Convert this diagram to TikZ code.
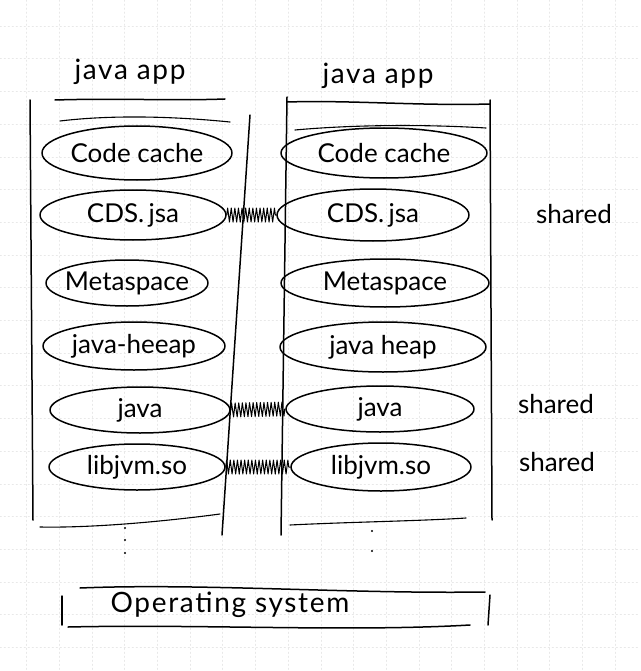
\documentclass[tikz,border=0pt]{standalone}
\usepackage{fontspec}
\setmainfont{Lato}
\usetikzlibrary{shapes.geometric,decorations.pathmorphing}
\begin{document}
\begin{tikzpicture}[x=1pt,y=-1pt, line cap=round, line join=round,
  pen/.style={line width=1.5pt, black},
  thin pen/.style={line width=1.1pt, black},
  ell/.style={ellipse, draw, line width=1.5pt, inner sep=0pt},
  lbl/.style={font=\fontsize{26}{28}\selectfont, inner sep=0pt},
  big lbl/.style={font=\fontsize{28}{30}\selectfont\addfontfeatures{LetterSpace=6}, inner sep=0pt},
  zz/.style={line width=1pt, decorate, decoration={zigzag, segment length=3.6pt, amplitude=7pt}},
  gridl/.style={black!9, line width=0.5pt, dash pattern=on 1.5pt off 2.5pt}]
\useasboundingbox (0,0) rectangle (640,671);
% faint graph paper grid
\foreach \i in {0,...,19} {
  \draw[gridl] ({26.5+\i*32.7},0) -- ({26.5+\i*32.7},671);
  \draw[gridl] (0,{26+\i*32.7}) -- (640,{26+\i*32.7});
}
% headers
\node[big lbl] (lh) at (130,72) {java app};
\node[big lbl] (rh) at (378,76) {java app};
% column borders
\draw[pen] (55,100) .. controls (120,98) and (170,101) .. (225,99);
\draw[pen] (30,100) -- (33,520);
\draw[pen] (250,115) -- (222,535);
\draw[pen] (287,97) -- (281,535);
\draw[pen] (287,102) .. controls (350,100) and (420,106) .. (490,104);
\draw[pen] (490,100) -- (492,520);
% overshoot strokes above first boxes
\draw[thin pen] (60,121) .. controls (110,115) and (170,116) .. (230,122);
\draw[thin pen] (295,130) .. controls (350,125) and (420,124) .. (486,128);
% left ellipses
\node[ell, minimum width=190pt, minimum height=54pt, label={[lbl]center:Code cache}] (lcc) at (137,153) {};
\node[ell, minimum width=186pt, minimum height=50pt, label={[lbl]center:CDS.\,jsa}] (lcds) at (133,215) {};
\node[ell, minimum width=162pt, minimum height=46pt, label={[lbl]center:Metaspace}] (lms) at (127,283) {};
\node[ell, minimum width=182pt, minimum height=48pt, label={[lbl]center:java-heeap}] (lheap) at (134,346) {};
\node[ell, minimum width=180pt, minimum height=46pt, label={[lbl]center:java}] (ljava) at (140,410) {};
\node[ell, minimum width=176pt, minimum height=46pt, label={[lbl]center:libjvm.so}] (llib) at (137,467) {};
% right ellipses
\node[ell, minimum width=206pt, minimum height=50pt, label={[lbl]center:Code cache}] (rcc) at (384,153) {};
\node[ell, minimum width=192pt, minimum height=52pt, label={[lbl]center:CDS.\,jsa}] (rcds) at (373,215) {};
\node[ell, minimum width=208pt, minimum height=48pt, label={[lbl]center:Metaspace}] (rms) at (385,283) {};
\node[ell, minimum width=206pt, minimum height=50pt, label={[lbl]center:java heap}] (rheap) at (383,347) {};
\node[ell, minimum width=188pt, minimum height=46pt, label={[lbl]center:java}] (rjava) at (380,409) {};
\node[ell, minimum width=180pt, minimum height=48pt, label={[lbl]center:libjvm.so}] (rlib) at (381,467) {};
% shared connectors
\draw[zz] (lcds.east) -- (rcds.west);
\draw[zz] (ljava.east) -- (rjava.west);
\draw[zz] (llib.east) -- (rlib.west);
% shared labels
\node[lbl] (s1) at (574,214) {shared};
\node[lbl] (s2) at (556,404) {shared};
\node[lbl] (s3) at (557,462) {shared};
% partial next boxes and dots
\draw[thin pen] (40,527) .. controls (90,528) and (160,522) .. (220,514);
\draw[thin pen] (290,525) .. controls (350,522) and (420,521) .. (466,518);
\foreach \y in {528,540,553} \fill (125,\y) circle (1.1pt);
\foreach \y in {531,551} \fill (372,\y) circle (1.2pt);
% operating system box
\node[big lbl] (os) at (230,605) {Operating system};
\draw[pen] (80,588) .. controls (200,583) and (350,594) .. (485,592);
\draw[pen] (62,596) -- (62,625);
\draw[pen] (68,627) .. controls (200,624) and (350,632) .. (470,625);
\draw[pen] (490,595) -- (488,625);
\end{tikzpicture}
\end{document}
